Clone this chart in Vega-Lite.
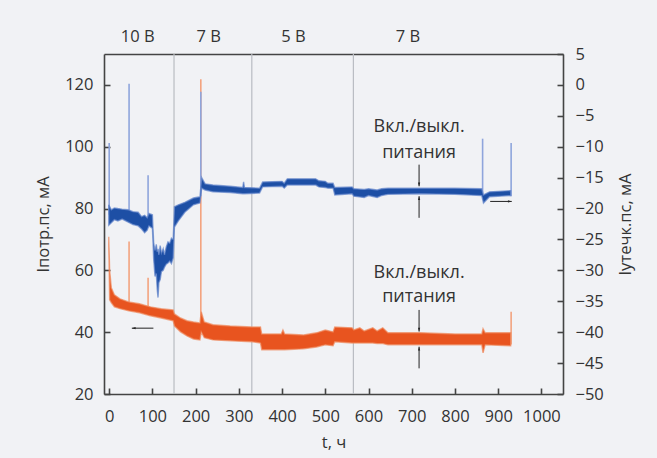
{
  "$schema": "https://vega.github.io/schema/vega-lite/v6.json",
  "width": 459,
  "height": 340,
  "autosize": {"type": "none"},
  "padding": {"left": 104, "top": 54, "right": 94, "bottom": 64},
  "background": "#f1f2f5",
  "config": {
    "view": {"stroke": null},
    "font": "Open Sans",
    "axis": {
      "domainColor": "#444444",
      "domainWidth": 1.6,
      "tickColor": "#444444",
      "tickWidth": 1.6,
      "tickSize": -6,
      "labelFont": "Open Sans",
      "labelFontSize": 16.5,
      "labelColor": "#333333",
      "titleFont": "Open Sans",
      "titleFontSize": 16.5,
      "titleFontWeight": "normal",
      "titleColor": "#333333",
      "grid": false,
      "labelFlush": false,
      "labelOverlap": false,
      "labelBound": false
    }
  },
  "datasets": {
    "orange": [
      {"t": -1, "lo": 68.3, "hi": 70.9},
      {"t": 1, "lo": 50.5, "hi": 60.2},
      {"t": 5, "lo": 49.5, "hi": 54.4},
      {"t": 12, "lo": 48.2, "hi": 52.1},
      {"t": 25, "lo": 47.6, "hi": 50.8},
      {"t": 45, "lo": 46.9, "hi": 49.8},
      {"t": 70, "lo": 46.3, "hi": 49.2},
      {"t": 95, "lo": 45.3, "hi": 48.2},
      {"t": 120, "lo": 44.6, "hi": 47.6},
      {"t": 148, "lo": 43.7, "hi": 47.2},
      {"t": 151, "lo": 42.0, "hi": 45.9},
      {"t": 165, "lo": 40.1, "hi": 44.6},
      {"t": 180, "lo": 38.8, "hi": 43.7},
      {"t": 195, "lo": 37.8, "hi": 43.3},
      {"t": 210, "lo": 37.5, "hi": 43.0},
      {"t": 213, "lo": 40.1, "hi": 46.6},
      {"t": 220, "lo": 38.2, "hi": 43.3},
      {"t": 240, "lo": 37.5, "hi": 42.4},
      {"t": 280, "lo": 37.2, "hi": 42.0},
      {"t": 330, "lo": 36.9, "hi": 41.7},
      {"t": 350, "lo": 36.5, "hi": 41.7},
      {"t": 353, "lo": 34.3, "hi": 39.4},
      {"t": 398, "lo": 34.3, "hi": 39.4},
      {"t": 402, "lo": 34.3, "hi": 40.7},
      {"t": 406, "lo": 34.3, "hi": 39.4},
      {"t": 450, "lo": 34.6, "hi": 39.1},
      {"t": 480, "lo": 35.2, "hi": 39.8},
      {"t": 500, "lo": 35.9, "hi": 40.7},
      {"t": 518, "lo": 35.6, "hi": 40.1},
      {"t": 522, "lo": 36.9, "hi": 41.7},
      {"t": 562, "lo": 36.5, "hi": 41.4},
      {"t": 566, "lo": 36.5, "hi": 40.7},
      {"t": 580, "lo": 36.5, "hi": 41.4},
      {"t": 590, "lo": 36.5, "hi": 40.4},
      {"t": 610, "lo": 36.5, "hi": 41.4},
      {"t": 620, "lo": 36.3, "hi": 40.4},
      {"t": 633, "lo": 36.3, "hi": 41.4},
      {"t": 645, "lo": 35.9, "hi": 39.8},
      {"t": 720, "lo": 35.9, "hi": 39.8},
      {"t": 800, "lo": 35.9, "hi": 39.4},
      {"t": 862, "lo": 35.9, "hi": 39.4},
      {"t": 865, "lo": 33.3, "hi": 41.1},
      {"t": 870, "lo": 35.9, "hi": 39.8},
      {"t": 929, "lo": 35.6, "hi": 39.8}
    ],
    "blue": [
      {"t": -1, "lo": -22.7, "hi": -19.4},
      {"t": 5, "lo": -22.3, "hi": -20.2},
      {"t": 12, "lo": -21.8, "hi": -19.9},
      {"t": 20, "lo": -22.0, "hi": -20.0},
      {"t": 30, "lo": -21.7, "hi": -20.1},
      {"t": 44, "lo": -22.2, "hi": -20.2},
      {"t": 55, "lo": -22.6, "hi": -20.5},
      {"t": 67, "lo": -22.8, "hi": -20.6},
      {"t": 75, "lo": -23.3, "hi": -21.3},
      {"t": 82, "lo": -23.9, "hi": -21.1},
      {"t": 88, "lo": -23.5, "hi": -21.5},
      {"t": 92, "lo": -22.8, "hi": -20.8},
      {"t": 100, "lo": -23.2, "hi": -21.0},
      {"t": 103, "lo": -28.3, "hi": -25.6},
      {"t": 106, "lo": -31.0, "hi": -26.8},
      {"t": 109, "lo": -30.5, "hi": -25.8},
      {"t": 111, "lo": -33.0, "hi": -27.0},
      {"t": 113, "lo": -34.4, "hi": -26.5},
      {"t": 115, "lo": -32.0, "hi": -27.5},
      {"t": 118, "lo": -31.5, "hi": -26.0},
      {"t": 121, "lo": -30.2, "hi": -27.2},
      {"t": 125, "lo": -30.0, "hi": -26.5},
      {"t": 128, "lo": -29.5, "hi": -27.5},
      {"t": 132, "lo": -29.0, "hi": -26.2},
      {"t": 136, "lo": -28.8, "hi": -25.4},
      {"t": 140, "lo": -28.5, "hi": -25.6},
      {"t": 144, "lo": -28.9, "hi": -24.8},
      {"t": 148, "lo": -28.0, "hi": -25.0},
      {"t": 151, "lo": -23.0, "hi": -19.7},
      {"t": 160, "lo": -22.0, "hi": -19.4},
      {"t": 175, "lo": -20.6, "hi": -19.0},
      {"t": 195, "lo": -19.4, "hi": -18.3},
      {"t": 210, "lo": -19.1, "hi": -18.1},
      {"t": 214, "lo": -16.7, "hi": -15.0},
      {"t": 222, "lo": -17.0, "hi": -16.0},
      {"t": 240, "lo": -17.3, "hi": -16.2},
      {"t": 280, "lo": -17.4, "hi": -16.4},
      {"t": 309, "lo": -17.6, "hi": -16.6},
      {"t": 311, "lo": -17.6, "hi": -15.7},
      {"t": 313, "lo": -17.6, "hi": -16.6},
      {"t": 348, "lo": -17.5, "hi": -16.7},
      {"t": 355, "lo": -16.5, "hi": -15.7},
      {"t": 400, "lo": -16.4, "hi": -15.6},
      {"t": 405, "lo": -16.7, "hi": -15.9},
      {"t": 412, "lo": -16.2, "hi": -15.2},
      {"t": 478, "lo": -16.2, "hi": -15.2},
      {"t": 485, "lo": -16.5, "hi": -15.5},
      {"t": 500, "lo": -16.6, "hi": -15.6},
      {"t": 506, "lo": -16.7, "hi": -15.9},
      {"t": 518, "lo": -16.7, "hi": -15.9},
      {"t": 522, "lo": -17.8, "hi": -16.6},
      {"t": 562, "lo": -17.6, "hi": -16.5},
      {"t": 566, "lo": -18.0, "hi": -16.8},
      {"t": 590, "lo": -18.2, "hi": -16.9},
      {"t": 600, "lo": -17.9, "hi": -16.8},
      {"t": 620, "lo": -18.2, "hi": -17.0},
      {"t": 630, "lo": -17.9, "hi": -16.8},
      {"t": 645, "lo": -17.7, "hi": -16.7},
      {"t": 720, "lo": -17.6, "hi": -16.7},
      {"t": 800, "lo": -17.7, "hi": -16.7},
      {"t": 862, "lo": -17.9, "hi": -16.8},
      {"t": 866, "lo": -19.1, "hi": -17.8},
      {"t": 880, "lo": -18.1, "hi": -17.3},
      {"t": 929, "lo": -17.9, "hi": -17.1}
    ],
    "orangeSpikes": [
      {"t": 46, "lo": 47.0, "hi": 69.3},
      {"t": 90, "lo": 46.5, "hi": 57.6},
      {"t": 212, "lo": 43.0, "hi": 121.8},
      {"t": 930, "lo": 36.0, "hi": 46.6}
    ],
    "blueSpikes": [
      {"t": 0, "lo": -21.0, "hi": -9.4},
      {"t": 46, "lo": -21.0, "hi": 0.2},
      {"t": 90, "lo": -22.0, "hi": -14.6},
      {"t": 212, "lo": -18.0, "hi": -1.1},
      {"t": 864, "lo": -18.0, "hi": -8.7},
      {"t": 930, "lo": -18.0, "hi": -9.4}
    ],
    "phases": [
      {"t": 150},
      {"t": 330},
      {"t": 565}
    ],
    "notes": [
      {"t": 717, "v": 106.3, "label": "Вкл./выкл."},
      {"t": 717, "v": 97.9, "label": "питания"},
      {"t": 717, "v": 59.3, "label": "Вкл./выкл."},
      {"t": 717, "v": 51.5, "label": "питания"}
    ],
    "vArrows": [
      {"t": 717, "v1": 94.2, "v2": 87.2, "dir": "down"},
      {"t": 717, "v1": 77.0, "v2": 84.0, "dir": "up"},
      {"t": 717, "v1": 47.2, "v2": 40.2, "dir": "down"},
      {"t": 717, "v1": 28.3, "v2": 35.3, "dir": "up"}
    ],
    "hArrows": [
      {"t1": 102.3, "t2": 52.4, "v": 41.3, "dir": "left"},
      {"t1": 881.5, "t2": 931.4, "v": 82.3, "dir": "right"}
    ]
  },
  "layer": [
    {
      "data": {"name": "phases"},
      "mark": {"type": "rule", "color": "#b9bcc2", "strokeWidth": 1.2},
      "encoding": {
        "x": {
          "field": "t",
          "type": "quantitative",
          "scale": {"domain": [-12, 1050], "nice": false, "zero": false},
          "axis": {
            "orient": "top",
            "values": [65, 229, 425, 690],
            "labelExpr": "datum.value == 65 ? '10 В' : datum.value == 425 ? '5 В' : '7 В'",
            "ticks": false,
            "labelPadding": 10,
            "title": null
          }
        }
      }
    },
    {
      "layer": [
        {
          "data": {"name": "orangeSpikes"},
          "mark": {"type": "rule", "color": "#f3a37f", "strokeWidth": 1.6},
          "encoding": {
            "x": {"field": "t", "type": "quantitative", "scale": {"domain": [-12, 1050], "nice": false, "zero": false},
              "axis": {"orient": "bottom", "values": [0, 100, 200, 300, 400, 500, 600, 700, 800, 900, 1000], "format": "d", "labelPadding": 20, "title": "t, ч", "titlePadding": 10}},
            "y": {"field": "lo", "type": "quantitative", "scale": {"domain": [20, 130], "nice": false, "zero": false},
              "axis": {"orient": "left", "values": [20, 40, 60, 80, 100, 120], "labelPadding": 17, "title": "Iпотр.пс, мА", "titlePadding": 13}},
            "y2": {"field": "hi"}
          }
        },
        {
          "data": {"name": "orange"},
          "mark": {"type": "area", "color": "#e8541f", "stroke": "#f08a5e", "strokeWidth": 1.4, "strokeOpacity": 0.7},
          "encoding": {
            "x": {"field": "t", "type": "quantitative",
              "axis": {"orient": "bottom", "values": [0, 100, 200, 300, 400, 500, 600, 700, 800, 900, 1000], "format": "d", "labelPadding": 20, "title": "t, ч", "titlePadding": 10}},
            "y": {"field": "lo", "type": "quantitative",
              "axis": {"orient": "left", "values": [20, 40, 60, 80, 100, 120], "labelPadding": 17, "title": "Iпотр.пс, мА", "titlePadding": 13}},
            "y2": {"field": "hi"}
          }
        },
        {
          "data": {"name": "notes"},
          "mark": {"type": "text", "fontSize": 18, "color": "#333333", "align": "center", "baseline": "middle"},
          "encoding": {
            "x": {"field": "t", "type": "quantitative"},
            "y": {"field": "v", "type": "quantitative"},
            "text": {"field": "label"}
          }
        },
        {
          "data": {"name": "vArrows"},
          "mark": {"type": "rule", "color": "#222222", "strokeWidth": 1},
          "encoding": {
            "x": {"field": "t", "type": "quantitative"},
            "y": {"field": "v1", "type": "quantitative"},
            "y2": {"field": "v2"}
          }
        },
        {
          "data": {"name": "vArrows"},
          "mark": {"type": "point", "filled": true, "color": "#222222", "opacity": 1, "size": 40},
          "encoding": {
            "x": {"field": "t", "type": "quantitative"},
            "y": {"field": "v2", "type": "quantitative"},
            "shape": {"field": "dir", "type": "nominal", "legend": null,
              "scale": {"domain": ["down", "up", "left", "right"], "range": ["M-0.35,-1.2L0,0L0.35,-1.2Z", "M-0.35,1.2L0,0L0.35,1.2Z", "M1.2,-0.35L0,0L1.2,0.35Z", "M-1.2,-0.35L0,0L-1.2,0.35Z"]}}
          }
        },
        {
          "data": {"name": "hArrows"},
          "mark": {"type": "rule", "color": "#222222", "strokeWidth": 1},
          "encoding": {
            "x": {"field": "t1", "type": "quantitative"},
            "x2": {"field": "t2"},
            "y": {"field": "v", "type": "quantitative"}
          }
        },
        {
          "data": {"name": "hArrows"},
          "mark": {"type": "point", "filled": true, "color": "#222222", "opacity": 1, "size": 40},
          "encoding": {
            "x": {"field": "t2", "type": "quantitative"},
            "y": {"field": "v", "type": "quantitative"},
            "shape": {"field": "dir", "type": "nominal", "legend": null,
              "scale": {"domain": ["down", "up", "left", "right"], "range": ["M-0.35,-1.2L0,0L0.35,-1.2Z", "M-0.35,1.2L0,0L0.35,1.2Z", "M1.2,-0.35L0,0L1.2,0.35Z", "M-1.2,-0.35L0,0L-1.2,0.35Z"]}}
          }
        }
      ]
    },
    {
      "layer": [
        {
          "data": {"name": "blueSpikes"},
          "mark": {"type": "rule", "color": "#8fa5dc", "strokeWidth": 1.6},
          "encoding": {
            "x": {"field": "t", "type": "quantitative", "scale": {"domain": [-12, 1050], "nice": false, "zero": false}, "axis": null},
            "y": {"field": "lo", "type": "quantitative", "scale": {"domain": [-50, 5], "nice": false, "zero": false},
              "axis": {"orient": "right", "values": [-50, -45, -40, -35, -30, -25, -20, -15, -10, -5, 0, 5], "labelPadding": 18, "title": "Iутечк.пс, мА", "titleAngle": 270, "titleBaseline": "top", "titlePadding": 14}},
            "y2": {"field": "hi"}
          }
        },
        {
          "data": {"name": "blue"},
          "mark": {"type": "area", "color": "#1d4fa5", "opacity": 1, "stroke": "#6486cc", "strokeWidth": 1.4, "strokeOpacity": 0.7},
          "encoding": {
            "x": {"field": "t", "type": "quantitative", "axis": null},
            "y": {"field": "lo", "type": "quantitative",
              "axis": {"orient": "right", "values": [-50, -45, -40, -35, -30, -25, -20, -15, -10, -5, 0, 5], "labelPadding": 18, "title": "Iутечк.пс, мА", "titleAngle": 270, "titleBaseline": "top", "titlePadding": 14}},
            "y2": {"field": "hi"}
          }
        }
      ]
    }
  ],
  "resolve": {"scale": {"x": "independent", "y": "independent"}}
}
